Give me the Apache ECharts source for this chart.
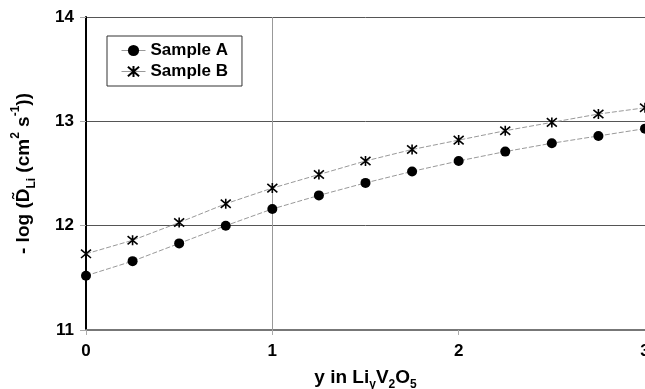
<!DOCTYPE html>
<html>
<head>
<meta charset="utf-8">
<script src="https://cdn.jsdelivr.net/npm/echarts@6/dist/echarts.min.js"></script>
<style>
  html, body { margin: 0; padding: 0; background: #fff; }
  #chart { width: 645px; height: 389px; }
</style>
</head>
<body>
<div id="chart"></div>
<script>
// composition y and the two samples
var yComp = [0, 0.25, 0.5, 0.75, 1, 1.25, 1.5, 1.75, 2, 2.25, 2.5, 2.75, 3];
var sampleA = [11.52, 11.66, 11.83, 12.00, 12.16, 12.29, 12.41, 12.52, 12.62, 12.71, 12.79, 12.86, 12.93];
var sampleB = [11.73, 11.86, 12.03, 12.21, 12.36, 12.49, 12.62, 12.73, 12.82, 12.91, 12.99, 13.07, 13.13];
var seriesNames = ['Sample A', 'Sample B'];

function pairs(xs, ys) {
  return xs.map(function (x, i) { return [x, ys[i]]; });
}

var FONT = '"Liberation Sans", Arial, sans-serif';
var starPath = 'path://M0,0L10,10M10,0L0,10M5,-1L5,11';

var chart = echarts.init(document.getElementById('chart'), null, { renderer: 'canvas' });

var option = {
  animation: false,
  backgroundColor: '#fff',
  textStyle: { fontFamily: FONT },
  grid: { left: 86, right: 0, top: 17, bottom: 59, outerBoundsMode: 'none', containLabel: false },
  legend: {
    left: 107,
    top: 36,
    orient: 'vertical',
    backgroundColor: '#fff',
    borderColor: '#333',
    borderWidth: 1,
    padding: [6, 14, 6, 14],
    itemGap: 4,
    itemWidth: 24,
    itemHeight: 14,
    lineStyle: { type: [100, 0], color: '#999', width: 1 },
    textStyle: { fontFamily: FONT, fontWeight: 'bold', fontSize: 17, color: '#000' },
    data: seriesNames
  },
  xAxis: {
    type: 'value',
    min: 0,
    max: 3,
    interval: 1,
    name: 'y in Li{sub|y}V{sub|2}O{sub|5}',
    nameLocation: 'middle',
    nameGap: 42,
    nameTextStyle: {
      fontFamily: FONT, fontWeight: 'bold', fontSize: 19, color: '#000',
      lineHeight: 26, verticalAlign: 'middle',
      rich: {
        sub: { fontFamily: FONT, fontWeight: 'bold', fontSize: 12, color: '#000', lineHeight: 26, verticalAlign: 'bottom' }
      }
    },
    axisLine: { show: true, lineStyle: { color: '#777', width: 2 } },
    axisTick: { show: true, length: 5, lineStyle: { color: '#aaa' } },
    axisLabel: { fontFamily: FONT, fontWeight: 'bold', fontSize: 17, color: '#000', margin: 13 },
    splitLine: { show: false }
  },
  yAxis: {
    type: 'value',
    min: 11,
    max: 14,
    interval: 1,
    name: '- log (D\u0303{sub|Li} (cm{sup|2} s{sup|-1}))',
    nameLocation: 'middle',
    nameRotate: 90,
    nameGap: 62,
    nameTextStyle: {
      fontFamily: FONT, fontWeight: 'bold', fontSize: 19, color: '#000',
      lineHeight: 28, verticalAlign: 'middle',
      rich: {
        sub: { fontFamily: FONT, fontWeight: 'bold', fontSize: 12, color: '#000', lineHeight: 28, verticalAlign: 'bottom' },
        sup: { fontFamily: FONT, fontWeight: 'bold', fontSize: 12, color: '#000', lineHeight: 28, verticalAlign: 'top' }
      }
    },
    axisLine: { show: true, lineStyle: { color: '#000', width: 2 } },
    axisTick: { show: true, length: 6, lineStyle: { color: '#aaa' } },
    axisLabel: { fontFamily: FONT, fontWeight: 'bold', fontSize: 17, color: '#000', margin: 12 },
    splitLine: { show: true, lineStyle: { color: '#555', width: 1 } }
  },
  series: [
    {
      name: seriesNames[0],
      type: 'line',
      data: pairs(yComp, sampleA),
      symbol: 'circle',
      symbolSize: 10,
      itemStyle: { color: '#000' },
      lineStyle: { color: '#999', width: 1, type: [5, 2] },
      z: 3,
      markLine: {
        silent: true,
        symbol: 'none',
        label: { show: false },
        lineStyle: { color: '#999', width: 1, type: 'solid' },
        data: [{ xAxis: 1 }],
        z: 1
      }
    },
    {
      name: seriesNames[1],
      type: 'line',
      data: pairs(yComp, sampleB),
      symbol: starPath,
      symbolSize: 10,
      itemStyle: { color: 'transparent', borderColor: '#000', borderWidth: 1.6 },
      lineStyle: { color: '#999', width: 1, type: [5, 2] },
      z: 3
    }
  ]
};

chart.setOption(option);
</script>
</body>
</html>
